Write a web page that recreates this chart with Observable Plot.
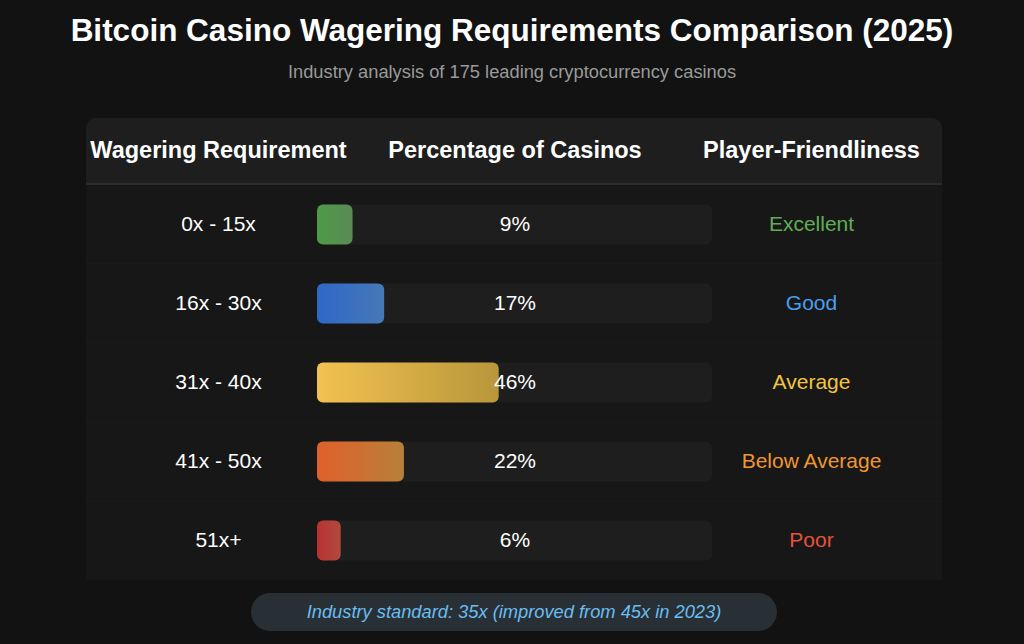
<!DOCTYPE html>
<html>
<head>
<meta charset="utf-8">
<script src="https://cdn.jsdelivr.net/npm/d3@7"></script>
<script src="https://cdn.jsdelivr.net/npm/@observablehq/plot@0.6"></script>
<style>
  html, body { margin: 0; padding: 0; background: #121212; }
  body { width: 1024px; height: 644px; overflow: hidden; position: relative;
         font-family: Arial, "Liberation Sans", Helvetica, sans-serif; }
  #title { position: absolute; left: 0; top: 11px; width: 1024px; text-align: center;
           color: #fff; font-size: 31.5px; font-weight: bold; line-height: 38px; }
  #subtitle { position: absolute; left: 0; top: 61px; width: 1024px; text-align: center;
              color: #9a9a9a; font-size: 18.3px; line-height: 22px; }
  #panel { position: absolute; left: 86px; top: 118px; width: 856px; height: 462px;
           background: #171717; border-radius: 10px 10px 0 0; }
  #header { position: absolute; left: 86px; top: 118px; width: 856px; height: 65px;
            background: #1e1e1e; border-radius: 10px 10px 0 0; border-bottom: 2px solid #2b2b2b; }
  .rowline { position: absolute; left: 86px; width: 856px; height: 1px; background: #1a1a1a; }
  #chart { position: absolute; left: 0; top: 100px; }
  #footer { position: absolute; left: 251px; top: 593px; width: 526px; height: 38px;
            border-radius: 19px; background: #283036; color: #6bbcef; font-style: italic;
            font-size: 18.3px; line-height: 38px; text-align: center; }
</style>
</head>
<body>
<div id="title"></div>
<div id="subtitle"></div>
<div id="panel"></div>
<div id="header"></div>
<div id="rows"></div>
<div id="chart"></div>
<div id="footer"></div>
<script>
const titleText = "Bitcoin Casino Wagering Requirements Comparison (2025)";
const subtitleText = "Industry analysis of 175 leading cryptocurrency casinos";
const footerText = "Industry standard: 35x (improved from 45x in 2023)";
const headers = ["Wagering Requirement", "Percentage of Casinos", "Player-Friendliness"];
const categories = ["0x - 15x", "16x - 30x", "31x - 40x", "41x - 50x", "51x+"];
const percentages = [9, 17, 46, 22, 6];
const ratings = ["Excellent", "Good", "Average", "Below Average", "Poor"];
const barColorsStart = ["#4e9a48", "#2f67c9", "#f2c250", "#e0602a", "#b93131"];
const barColorsEnd = ["#5b8a56", "#4679b6", "#b8963a", "#b8803a", "#b04a40"];
const ratingColors = ["#5fae57", "#4a9ff0", "#f2c443", "#f0962f", "#e5513e"];

document.getElementById("title").textContent = titleText;
document.getElementById("subtitle").textContent = subtitleText;
document.getElementById("footer").textContent = footerText;

const data = categories.map((c, i) => ({
  category: c, pct: percentages[i], rating: ratings[i],
  grad: `url(#grad${i})`, rcolor: ratingColors[i]
}));

const H = 485, mTop = 84, mBottom = 5;
const bandH = (H - mTop - mBottom) / categories.length;
const inset = (bandH - 40) / 2;

const rows = document.getElementById("rows");
for (let i = 1; i < categories.length; i++) {
  const d = document.createElement("div");
  d.className = "rowline";
  d.style.top = (100 + mTop + bandH * i) + "px";
  rows.appendChild(d);
}

const FONT = "Arial, 'Liberation Sans', Helvetica, sans-serif";
const BODY = 21, HEAD = 23.5;

const chart = Plot.plot({
  width: 1024,
  height: H,
  marginTop: mTop,
  marginBottom: mBottom,
  marginLeft: 317,
  marginRight: 312,
  style: { background: "transparent", fontFamily: FONT },
  x: { domain: [0, 100], axis: null },
  y: { domain: categories, axis: null, padding: 0 },
  color: { type: "identity" },
  marks: [
    Plot.barX(data, { x1: 0, x2: 100, y: "category", fill: "#1e1e1e", rx: 6, insetTop: inset, insetBottom: inset }),
    Plot.barX(data, { x1: 0, x2: "pct", y: "category", fill: "grad", rx: 6, insetTop: inset, insetBottom: inset }),
    Plot.text(data, { y: "category", text: "category", frameAnchor: "left", dx: -99, dy: -1, textAnchor: "middle", lineAnchor: "middle", fill: "#ffffff", fontSize: BODY }),
    Plot.text(data, { y: "category", text: d => d.pct + "%", frameAnchor: "middle", dy: -1, textAnchor: "middle", lineAnchor: "middle", fill: "#ffffff", fontSize: BODY }),
    Plot.text(data, { y: "category", text: "rating", frameAnchor: "right", dx: 99, dy: -1, textAnchor: "middle", lineAnchor: "middle", fill: "rcolor", fontSize: BODY }),
    Plot.text([headers[0]], { text: d => d, frameAnchor: "top-left", dx: -99, dy: -34, textAnchor: "middle", lineAnchor: "middle", fill: "#ffffff", fontSize: HEAD, fontWeight: "bold" }),
    Plot.text([headers[1]], { text: d => d, frameAnchor: "top", dy: -34, textAnchor: "middle", lineAnchor: "middle", fill: "#ffffff", fontSize: HEAD, fontWeight: "bold" }),
    Plot.text([headers[2]], { text: d => d, frameAnchor: "top-right", dx: 99, dy: -34, textAnchor: "middle", lineAnchor: "middle", fill: "#ffffff", fontSize: HEAD, fontWeight: "bold" })
  ]
});

const defs = d3.select(chart).insert("defs", ":first-child");
barColorsStart.forEach((c, i) => {
  const g = defs.append("linearGradient").attr("id", `grad${i}`).attr("x1", 0).attr("x2", 1).attr("y1", 0).attr("y2", 0);
  g.append("stop").attr("offset", "0%").attr("stop-color", c);
  g.append("stop").attr("offset", "100%").attr("stop-color", barColorsEnd[i]);
});

document.getElementById("chart").appendChild(chart);
</script>
</body>
</html>
